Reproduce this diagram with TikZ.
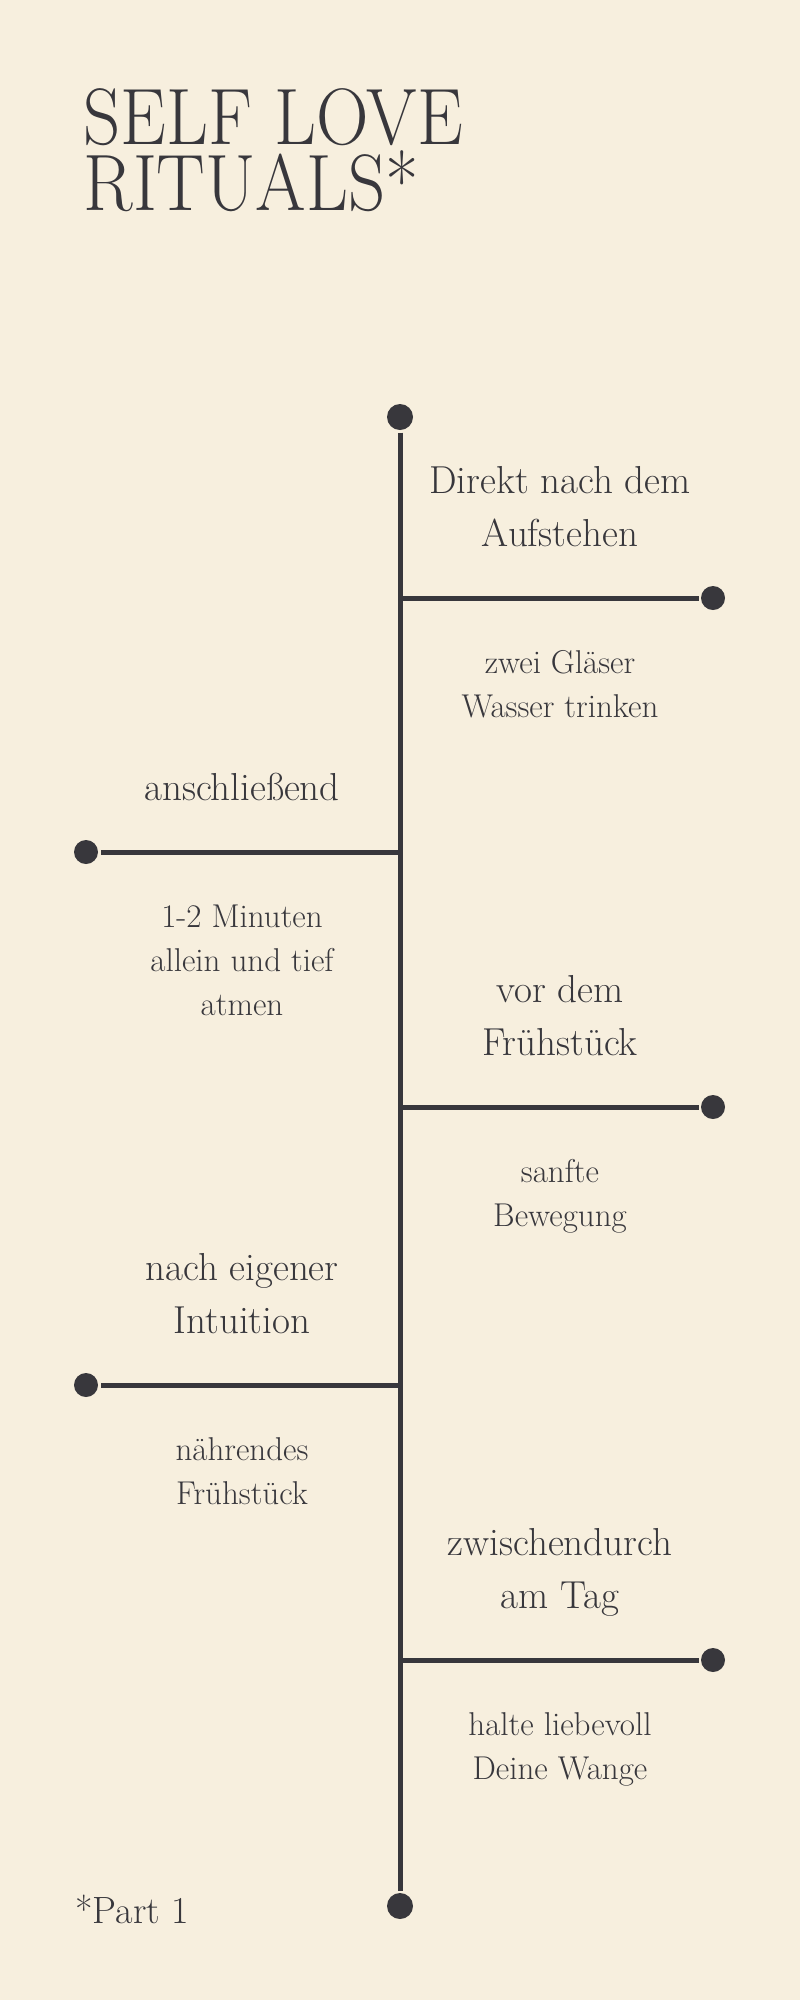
\documentclass[tikz,border=0pt]{standalone}
\usepackage{fontspec}
\definecolor{cream}{HTML}{F7EFDE}
\definecolor{ink}{HTML}{38373C}
\tikzset{
  headline/.style={anchor=base west, inner sep=0pt, text=ink, align=left, font=\fontsize{80}{66}\selectfont},
  when/.style={anchor=base, inner sep=0pt, text=ink, align=center, font=\fontsize{39}{53}\selectfont},
  what/.style={anchor=base, inner sep=0pt, text=ink, align=center, font=\fontsize{33}{44}\selectfont},
  dot/.style={circle, fill=ink, inner sep=0pt, minimum size=24pt},
}
\begin{document}
\begin{tikzpicture}[x=1pt, y=-1pt, line width=5pt]
  % Self love rituals timeline
  \fill[cream] (0,0) rectangle (800,2000);
  \useasboundingbox (0,0) rectangle (800,2000);
  \node[headline] (title) at (81,210) {\scalebox{0.91}[1]{SELF LOVE}\\\scalebox{0.91}[1]{RITUALS*}};
  \node[dot, minimum size=26pt] (top) at (400,417) {};
  \node[dot, minimum size=26pt] (bottom) at (400,1906) {};
  \draw[ink] (top) -- (bottom);
  \foreach \i/\y/\x/\tx/\n/\when/\what in {
    1/598/713/560/2/{Direkt nach dem\\Aufstehen}/{zwei Gläser\\Wasser trinken},
    2/852/86/242/3/{anschließend}/{1-2 Minuten\\allein und tief\\atmen},
    3/1107/713/560/2/{vor dem\\Frühstück}/{sanfte\\Bewegung},
    4/1385/86/242/2/{nach eigener\\Intuition}/{nährendes\\Frühstück},
    5/1660/713/560/2/{zwischendurch\\am Tag}/{halte liebevoll\\Deine Wange}}
  {
    \coordinate (j\i) at (400,\y);
    \node[dot] (d\i) at (\x,\y) {};
    \draw[ink] (j\i) -- (d\i);
    \node[when] (when\i) at (\tx,\y-52) {\when};
    \node[what] (what\i) at (\tx,\y+31+44*\n) {\what};
  }
  \node[anchor=base west, inner sep=0pt, text=ink, font=\fontsize{38}{42}\selectfont] (part) at (73,1923) {*Part 1};
\end{tikzpicture}
\end{document}
